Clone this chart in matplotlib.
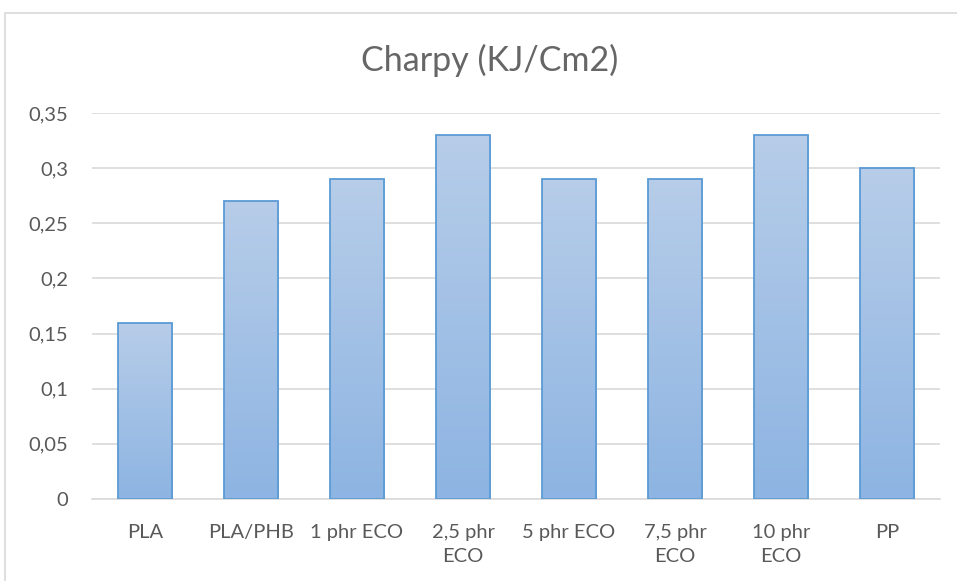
import matplotlib
matplotlib.use("Agg")
import matplotlib.pyplot as plt
import numpy as np
from matplotlib.patches import Rectangle
from matplotlib.colors import LinearSegmentedColormap

categories = ["PLA", "PLA/PHB", "1 phr ECO", "2,5 phr\nECO", "5 phr ECO", "7,5 phr\nECO", "10 phr\nECO", "PP"]
values = [0.16, 0.27, 0.29, 0.33, 0.29, 0.29, 0.33, 0.30]
yticks = [0, 0.05, 0.1, 0.15, 0.2, 0.25, 0.3, 0.35]
ytick_labels = ["0", "0,05", "0,1", "0,15", "0,2", "0,25", "0,3", "0,35"]

plt.rcParams['font.family'] = ['Lato', 'DejaVu Sans']

W, H = 957, 581
fig = plt.figure(figsize=(W/100, H/100), dpi=100)
fig.patch.set_facecolor("white")

# chart border
fig.patches.append(Rectangle((5/W, 0 - 0.01), 1.2, (H-13)/H + 0.01, transform=fig.transFigure,
                             fill=False, edgecolor="#d9d9d9", linewidth=1.2))

left, right = 92/W, 940/W
bottom, top = 1 - 499/H, 1 - 113/H
ax = fig.add_axes([left, bottom, right-left, top-bottom])
ax.set_xlim(-0.5, len(categories)-0.5)
ax.set_ylim(0, 0.35)

cmap = LinearSegmentedColormap.from_list("g", ["#8db4e2", "#b7cde9"])
grad = np.linspace(0, 1, 256).reshape(-1, 1)
x = np.arange(len(categories))
bars = ax.bar(x, values, width=0.51, facecolor="none", edgecolor="#5b9bd5", linewidth=1.3, zorder=3)
for b in bars:
    bx, by = b.get_x(), b.get_y()
    bw, bh = b.get_width(), b.get_height()
    im = ax.imshow(grad, extent=[bx, bx+bw, by, by+bh], aspect="auto", cmap=cmap,
                   origin="lower", zorder=2)
    im.set_clip_path(b)
ax.set_xlim(-0.5, len(categories)-0.5)
ax.set_ylim(0, 0.35)

ax.set_yticks(yticks)
ax.set_yticklabels(ytick_labels)
ax.set_xticks(x)
ax.set_xticklabels(categories)
ax.yaxis.grid(True, color="#d9d9d9", linewidth=1.2, zorder=0)
ax.set_axisbelow(True)
for s in ["top", "right", "left"]:
    ax.spines[s].set_visible(False)
ax.spines["bottom"].set_color("#d9d9d9")
ax.spines["bottom"].set_linewidth(1.2)
ax.tick_params(axis="both", length=0, colors="#595959", labelsize=14.5)
ax.tick_params(axis="y", pad=17)
ax.tick_params(axis="x", pad=18)
for lab in ax.get_xticklabels():
    lab.set_linespacing(1.5)

fig.text(0.512, 1 - 60/H, "Charpy (KJ/Cm2)", ha="center", va="center", fontsize=24.5, color="#666666")

fig.savefig("out.png", dpi=100)
